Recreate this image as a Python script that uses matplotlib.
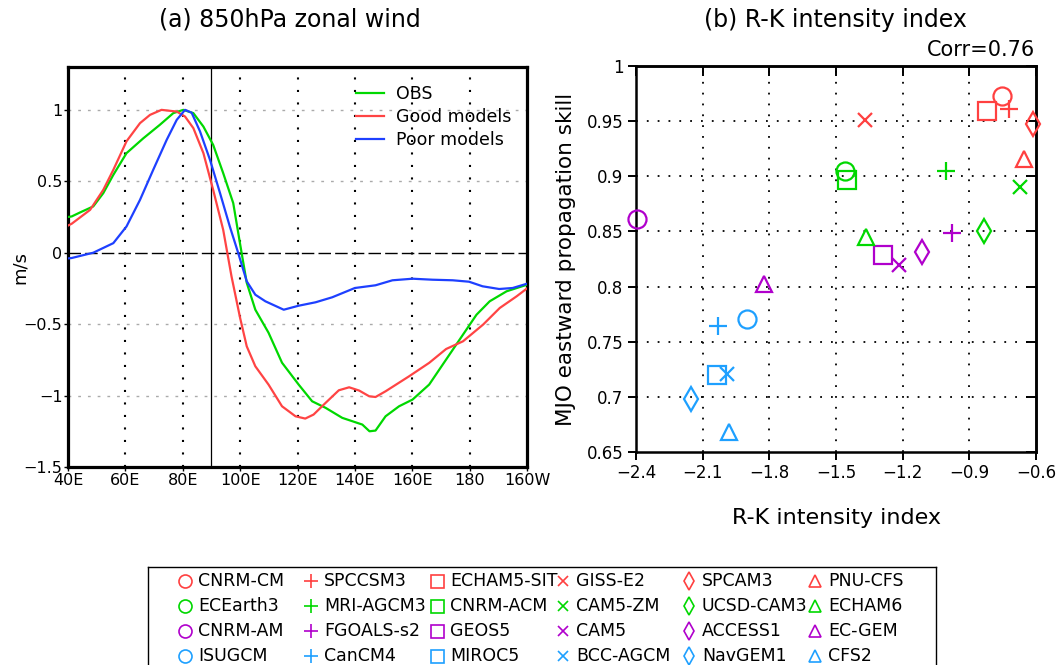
import numpy as np
import matplotlib
matplotlib.use("Agg")
import matplotlib.pyplot as plt

# ---- data: (a) 850hPa zonal wind, normalised, longitude in degrees east
obs_lon = [40, 41.3, 44, 48.8, 52.3, 55.8, 60.4, 66.2, 72, 76.7, 80.2, 83.7, 87.2, 90.6,
           94.1, 97.6, 100, 102.3, 105.3, 109.9, 114.6, 120.4, 125.1, 129.8, 135.6,
           142.6, 145.1, 147.2, 150.7, 155.4, 160.1, 165.9, 171.8, 177.7, 182.4, 187,
           192.9, 200]
obs_u = [0.25, 0.254, 0.28, 0.324, 0.417, 0.545, 0.697, 0.80, 0.895, 0.977, 1.0, 0.977,
         0.883, 0.755, 0.557, 0.347, 0.06, -0.21, -0.399, -0.56, -0.77, -0.923, -1.04,
         -1.086, -1.156, -1.203, -1.25, -1.245, -1.145, -1.075, -1.028, -0.923, -0.748,
         -0.573, -0.434, -0.34, -0.27, -0.224]

good_lon = [40, 41.3, 47.7, 52.3, 55.8, 60.4, 65.1, 68.6, 72.6, 77.9, 80.8, 83.7, 87.2,
            90.6, 94.1, 97, 100, 102.3, 105.3, 109.9, 114.6, 119.3, 122.7, 125.6, 129.8,
            134.4, 138, 141.5, 145, 147.2, 150.7, 158.9, 165.9, 171.8, 177.7, 184.7,
            190.5, 196.4, 200]
good_u = [0.19, 0.203, 0.30, 0.44, 0.58, 0.78, 0.907, 0.965, 1.0, 0.988, 0.953, 0.872,
          0.697, 0.44, 0.16, -0.166, -0.457, -0.655, -0.795, -0.923, -1.075, -1.145,
          -1.161, -1.133, -1.051, -0.963, -0.942, -0.965, -1.005, -1.01, -0.97, -0.865,
          -0.771, -0.674, -0.62, -0.503, -0.387, -0.305, -0.25]

poor_lon = [40, 41.3, 48.8, 55.8, 60.4, 65.1, 69.7, 74.4, 77.9, 80.8, 83.1, 86, 89.5,
            93, 96.4, 99.3, 102.3, 105.3, 108.8, 115.2, 120.4, 126.3, 132.1, 140, 147.2,
            153.1, 160.1, 167.1, 174.1, 179.8, 184.5, 190.3, 195, 200]
poor_u = [-0.04, -0.037, 0.0, 0.067, 0.184, 0.37, 0.58, 0.79, 0.93, 1.0, 0.98, 0.85,
          0.65, 0.417, 0.184, 0.0, -0.2, -0.294, -0.34, -0.399, -0.371, -0.347, -0.312,
          -0.247, -0.228, -0.193, -0.182, -0.189, -0.193, -0.203, -0.235, -0.254,
          -0.247, -0.217]

lon_ticks = [40, 60, 80, 100, 120, 140, 160, 180, 200]
lon_labels = ["40E", "60E", "80E", "100E", "120E", "140E", "160E", "180", "160W"]
u_ticks = [-1.5, -1, -0.5, 0, 0.5, 1]
u_labels = ["\u22121.5", "\u22121", "\u22120.5", "0", "0.5", "1"]

# ---- data: (b) R-K intensity index vs MJO eastward propagation skill
model_names = ["CNRM-CM", "ECEarth3", "CNRM-AM", "ISUGCM",
               "SPCCSM3", "MRI-AGCM3", "FGOALS-s2", "CanCM4",
               "ECHAM5-SIT", "CNRM-ACM", "GEOS5", "MIROC5",
               "GISS-E2", "CAM5-ZM", "CAM5", "BCC-AGCM",
               "SPCAM3", "UCSD-CAM3", "ACCESS1", "NavGEM1",
               "PNU-CFS", "ECHAM6", "EC-GEM", "CFS2"]
rk_index = [-0.753, -1.46, -2.397, -1.899,
            -0.72, -1.005, -0.98, -2.03,
            -0.821, -1.449, -1.287, -2.034,
            -1.37, -0.672, -1.2165, -1.992,
            -0.615, -0.836, -1.113, -2.154,
            -0.6525, -1.367, -1.8225, -1.9815]
eastward_skill = [0.973, 0.905, 0.861, 0.771,
                  0.961, 0.905, 0.849, 0.764,
                  0.959, 0.897, 0.829, 0.720,
                  0.951, 0.890, 0.820, 0.721,
                  0.9475, 0.850, 0.831, 0.698,
                  0.916, 0.8445, 0.8025, 0.668]
rk_ticks = [-2.4, -2.1, -1.8, -1.5, -1.2, -0.9, -0.6]
rk_labels = ["\u22122.4", "\u22122.1", "\u22121.8", "\u22121.5", "\u22121.2", "\u22120.9", "\u22120.6"]
skill_ticks = [0.65, 0.7, 0.75, 0.8, 0.85, 0.9, 0.95, 1.0]
skill_labels = ["0.65", "0.7", "0.75", "0.8", "0.85", "0.9", "0.95", "1"]

# styles
group_colors = ["#ff4040", "#00d800", "#b000cc", "#1ea0ff"]
markers = ["o", "+", "s", "x", "d", "^"]
msize = {"o": 13, "+": 13.5, "s": 13, "x": 9.5, "d": 12.5, "^": 12}

plt.rcParams["font.family"] = "DejaVu Sans"
fig = plt.figure(figsize=(10.58, 6.65), dpi=100)

# ================= panel (a)
ax1 = fig.add_axes([68 / 1058, 1 - 467 / 665, 459 / 1058, 400 / 665])
ax1.plot(obs_lon, obs_u, color="#00d800", lw=1.6, label="OBS", zorder=3)
ax1.plot(good_lon, good_u, color="#ff4444", lw=1.6, label="Good models", zorder=3)
ax1.plot(poor_lon, poor_u, color="#1e40ff", lw=1.6, label="Poor models", zorder=3)
ax1.set_xlim(40, 200)
ax1.set_ylim(-1.5, 1.3)
ax1.set_xticks(lon_ticks)
ax1.set_xticklabels(lon_labels)
ax1.set_yticks(u_ticks)
ax1.set_yticklabels(u_labels)
for x in lon_ticks[1:-1]:
    ax1.axvline(x, color="black", lw=1.5, ls=(0, (1, 5)), zorder=1)
for y in [-1, -0.5, 0.5, 1]:
    ax1.axhline(y, color="#aaaaaa", lw=1.0, ls=(0, (2, 5)), zorder=1)
ax1.axhline(0, color="black", lw=1.0, ls=(0, (9, 3)), zorder=2)
ax1.axvline(90, color="black", lw=0.9, zorder=2)
ax1.tick_params(direction="out", length=3, width=1, labelsize=11.5, pad=1)
for sp in ax1.spines.values():
    sp.set_linewidth(2.3)
ax1.set_ylabel("m/s", fontsize=13)
ax1.yaxis.set_label_coords(-0.085, 0.5)
ax1.legend(loc="upper right", bbox_to_anchor=(1.0, 0.995), frameon=False, fontsize=12.5,
           handlelength=1.6, handletextpad=0.7, labelspacing=0.3)
fig.text(290 / 1058, 1 - 20 / 665, "(a) 850hPa zonal wind", fontsize=17,
         ha="center", va="center")

# ================= panel (b)
ax2 = fig.add_axes([636 / 1058, 1 - 452 / 665, 400 / 1058, 386 / 665])
for i, name in enumerate(model_names):
    m = markers[i // 4]
    c = group_colors[i % 4]
    ax2.plot(rk_index[i], eastward_skill[i], marker=m, ms=msize[m], mfc="none",
             mec=c, mew=1.6, ls="none", clip_on=False, zorder=4)
ax2.set_xlim(-2.4, -0.6)
ax2.set_ylim(0.65, 1.0)
ax2.set_xticks(rk_ticks)
ax2.set_xticklabels(rk_labels)
ax2.set_yticks(skill_ticks)
ax2.set_yticklabels(skill_labels)
for x in rk_ticks[1:-1]:
    ax2.axvline(x, color="black", lw=1.3, ls=(0, (1, 5)), zorder=1)
for y in skill_ticks[1:-1]:
    ax2.axhline(y, color="black", lw=1.3, ls=(0, (1, 5)), zorder=1)
ax2.tick_params(direction="out", length=6, width=1.4, labelsize=12, pad=3)
sec_x = ax2.secondary_xaxis("top")
sec_x.set_xticks(rk_ticks)
sec_x.tick_params(direction="in", length=7, width=1.4, labeltop=False)
sec_y = ax2.secondary_yaxis("right")
sec_y.set_yticks(skill_ticks)
sec_y.tick_params(direction="in", length=7, width=1.4, labelright=False)
for a in (ax2, sec_x, sec_y):
    for sp in a.spines.values():
        sp.set_linewidth(1.8)
ax2.set_xlabel("R-K intensity index", fontsize=16, labelpad=18)
ax2.set_ylabel("MJO eastward propagation skill", fontsize=15.5, labelpad=8)
fig.text(835 / 1058, 1 - 20 / 665, "(b) R-K intensity index", fontsize=17,
         ha="center", va="center")
fig.text(1035 / 1058, 1 - 50 / 665, "Corr=0.76", fontsize=15, ha="right", va="center")

# ================= model legend box (pixel coordinates)
axl = fig.add_axes([148 / 1058, -0.06, (936 - 148) / 1058, (1 - 567 / 665) + 0.06])
axl.set_xlim(148, 936)
axl.set_ylim(665 + 0.06 * 665, 567)
axl.set_xticks([])
axl.set_yticks([])
for sp in axl.spines.values():
    sp.set_linewidth(1.0)
for i, name in enumerate(model_names):
    col, row = i // 4, i % 4
    m = markers[col]
    xm = 185 + 126 * col
    ym = 581 + 25 * row
    axl.plot(xm, ym, marker=m, ms=msize[m] * 0.72, mfc="none", mec=group_colors[row],
             mew=1.2, ls="none")
    axl.text(xm + 13, ym, name, fontsize=12.5, ha="left", va="center")

fig.savefig("out.png", dpi=100)
